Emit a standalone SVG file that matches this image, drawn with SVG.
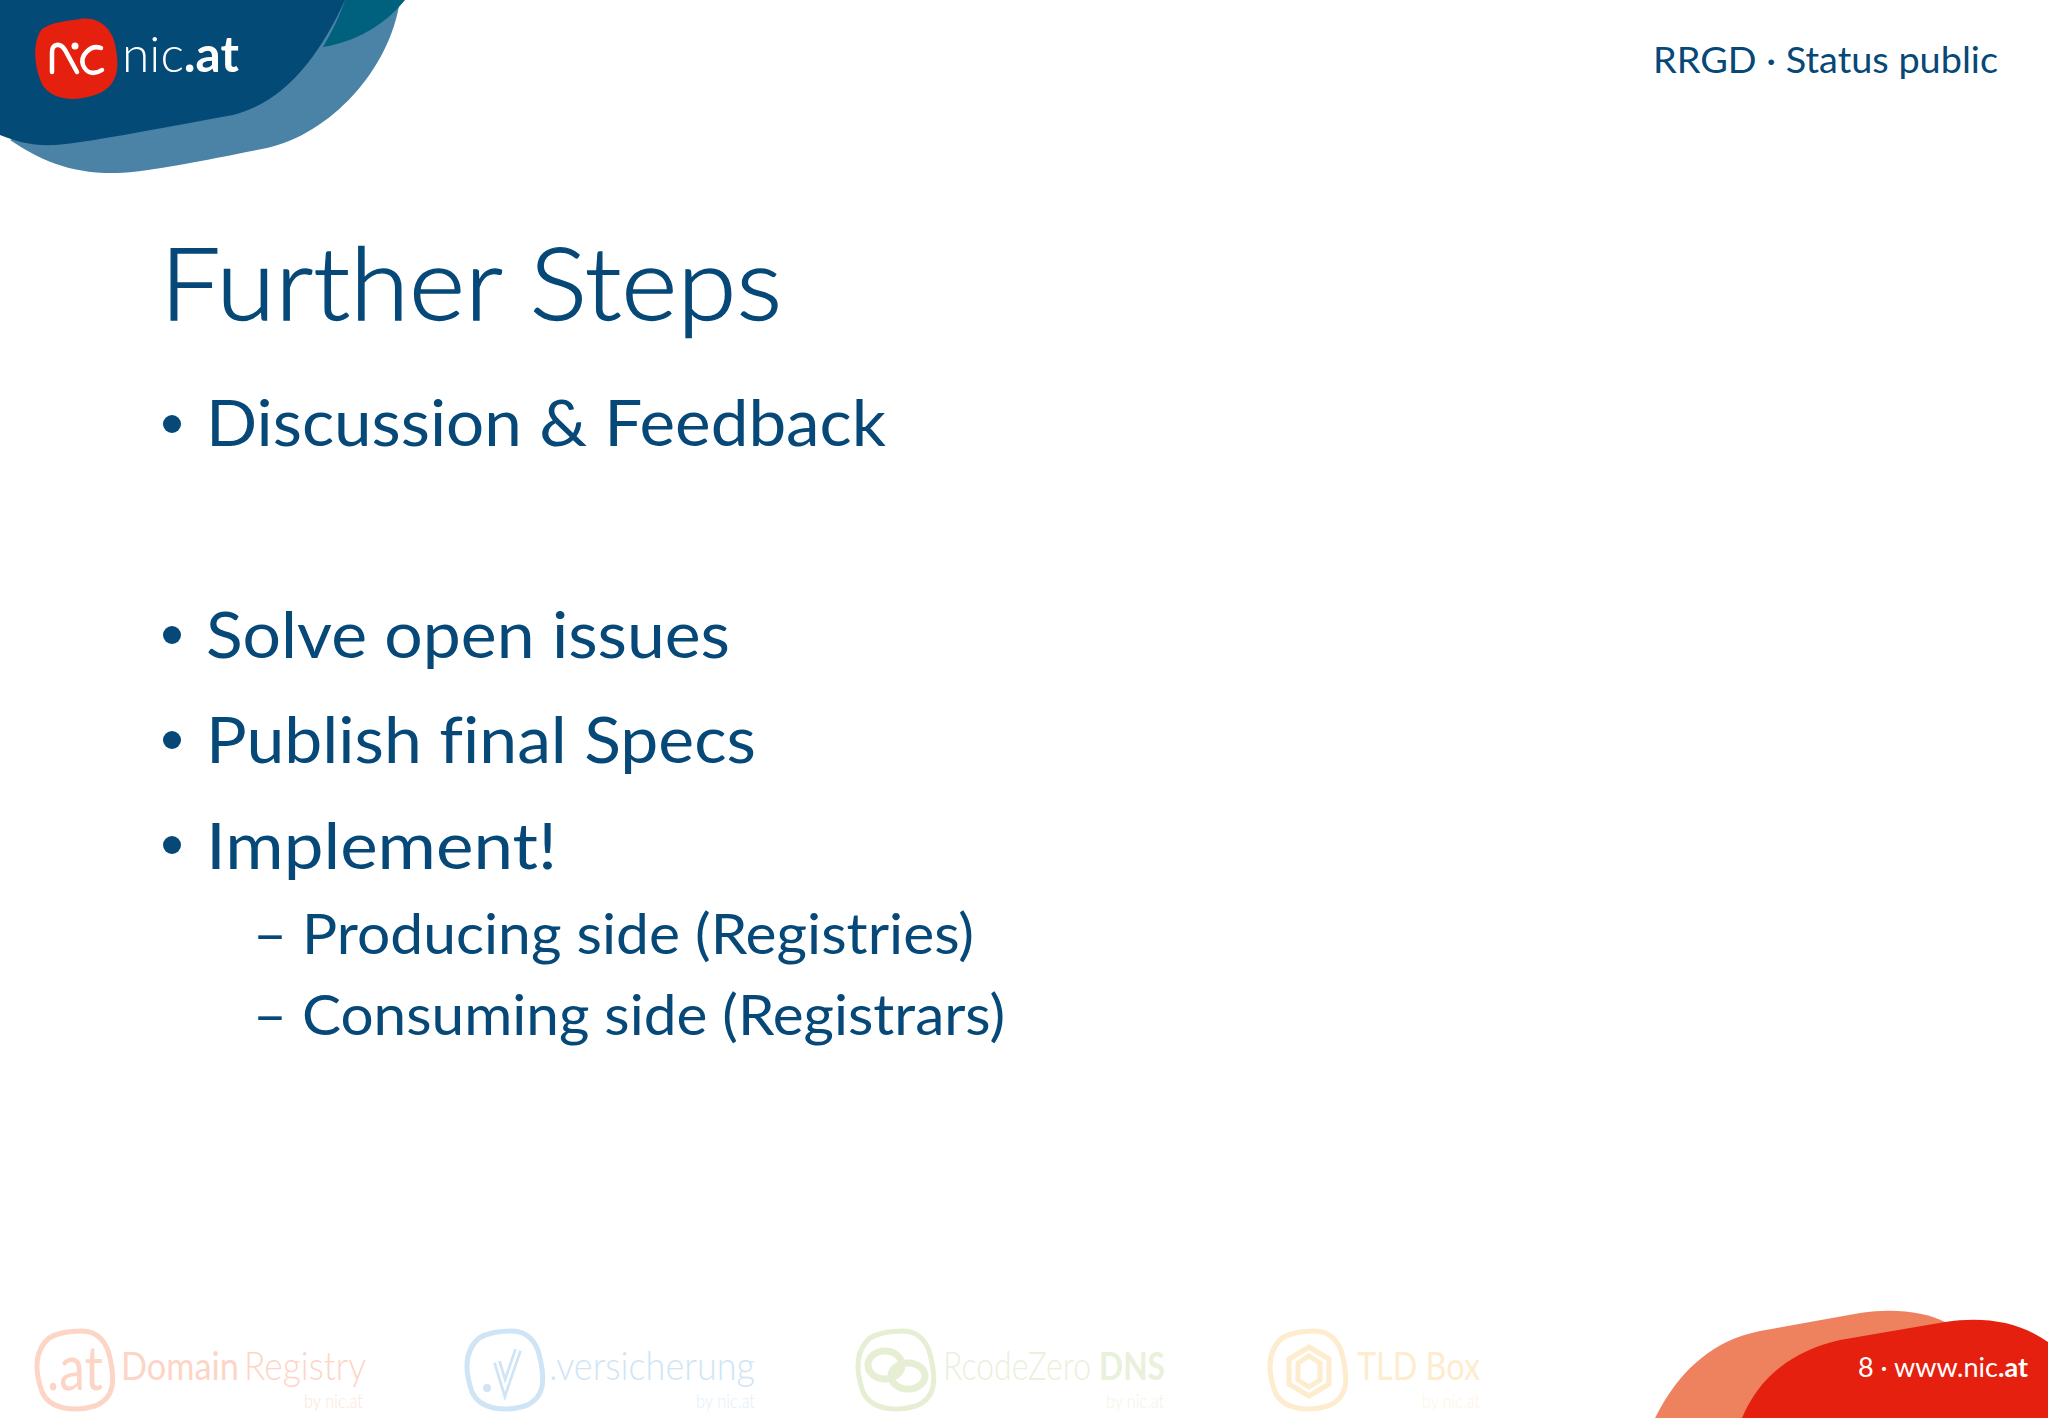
<svg xmlns="http://www.w3.org/2000/svg" width="2048" height="1418" viewBox="0 0 2048 1418">
<style>
text{font-family:"Lato","Liberation Sans",sans-serif;fill:#064877;font-variant-ligatures:none}
.t{font-size:100px;font-weight:300;stroke:#064877;stroke-width:1.3px}
.b{font-size:64px}
.s{font-size:57px}
.h{font-size:37px}
.lg{fill:none;stroke-width:5}
.n{font-size:39px}
.y{font-size:19px;font-weight:300}
.bu{fill:#064877}
</style>
<defs>
<path id="blob" d="M45 1C62 0 72 12 75 28C80 50 80 68 60 76C40 82 15 80 7 62C0 42 -2 22 14 8C24 2 34 2 45 1Z"/>
</defs>
<rect width="2048" height="1418" fill="#fff"/>
<g id="header-shapes">
<path d="M10 140C40 160 70 174 117 173C150 172 215 158 267 148C330 134 390 70 400 0H300Z" fill="#4a83a6"/>
<path d="M0 135C18 142 32 146 55 145C85 143 150 130 233 115C285 102 320 55 345 0H0Z" fill="#034a77"/>
<path d="M345 0C340 15 332 32 323 47C355 42 385 25 405 0Z" fill="#00617f"/>
</g>
<g id="logo">
<path d="M80 19C100 16 112 30 115 44C120 68 118 84 100 93C80 102 52 102 42 84C34 66 32 42 42 29C52 22 66 21 80 19Z" fill="#e5200f"/>
<path d="M52 72V52C52 44 60 42 65 50L77 72M101 48C90 44 80 56 83 65C87 75 96 74 102 70" fill="none" stroke="#fff" stroke-width="4.5" stroke-linecap="round"/>
<circle cx="75" cy="46" r="3.5" fill="#fff"/>
<text x="122" y="72" font-size="50" style="fill:#fff;font-weight:300" textLength="117" lengthAdjust="spacingAndGlyphs">nic<tspan font-weight="700">.at</tspan></text>
</g>
<g id="status"><text class="h" x="1653" y="73" textLength="345" lengthAdjust="spacingAndGlyphs">RRGD · Status public</text></g>
<g id="title"><text class="t" x="160" y="320" textLength="622" lengthAdjust="spacingAndGlyphs">Further Steps</text></g>
<g id="bullets">
<circle class="bu" cx="172" cy="424" r="9"/>
<text class="b" x="206" y="446" textLength="680" lengthAdjust="spacingAndGlyphs">Discussion &amp; Feedback</text>
<circle class="bu" cx="172" cy="635" r="9"/>
<text class="b" x="206" y="658" textLength="524" lengthAdjust="spacingAndGlyphs">Solve open issues</text>
<circle class="bu" cx="172" cy="740" r="9"/>
<text class="b" x="206" y="763" textLength="550" lengthAdjust="spacingAndGlyphs">Publish final Specs</text>
<circle class="bu" cx="172" cy="845" r="9"/>
<text class="b" x="206" y="869" textLength="351" lengthAdjust="spacingAndGlyphs">Implement!</text>
<text class="s" x="253" y="954" textLength="721" lengthAdjust="spacingAndGlyphs">– Producing side (Registries)</text>
<text class="s" x="253" y="1035" textLength="752" lengthAdjust="spacingAndGlyphs">– Consuming side (Registrars)</text>
</g>
<g id="footer-logos">
<g id="domain-registry">
<use href="#blob" x="35" y="1330" class="lg" stroke="#fcd5c6"/>
<text x="47" y="1390" font-size="62" style="fill:#fcd5c6" textLength="56" lengthAdjust="spacingAndGlyphs">.at</text>
<text x="121" y="1380" class="n" style="fill:#fcd5c6" textLength="118" lengthAdjust="spacingAndGlyphs">Domain</text>
<text x="244" y="1380" class="n" style="fill:#fcd5c6;font-weight:300" textLength="122" lengthAdjust="spacingAndGlyphs">Registry</text>
<text class="y" x="304" y="1408" style="fill:#fde4da" textLength="59" lengthAdjust="spacingAndGlyphs">by nic.at</text>
</g>
<g id="versicherung">
<use href="#blob" x="465" y="1330" class="lg" stroke="#cfe5f6"/>
<circle cx="487" cy="1388" r="4" fill="#cfe5f6"/>
<path d="M497 1362L505 1388L518 1350" fill="none" stroke="#cfe5f6" stroke-width="8"/>
<path d="M497 1362L505 1388L518 1350" fill="none" stroke="#fff" stroke-width="2.5"/>
<text x="549" y="1380" class="n" style="fill:#cfe5f6;font-weight:300" textLength="206" lengthAdjust="spacingAndGlyphs">.versicherung</text>
<text class="y" x="696" y="1408" style="fill:#e2eff9" textLength="59" lengthAdjust="spacingAndGlyphs">by nic.at</text>
</g>
<g id="rcodezero">
<use href="#blob" x="856" y="1330" class="lg" stroke="#e6efd3"/>
<g fill="none" stroke="#e6efd3" stroke-width="7"><ellipse cx="885" cy="1365" rx="17" ry="14"/><ellipse cx="908" cy="1376" rx="17" ry="13"/></g>
<text x="943" y="1380" class="n" style="fill:#e9f0db;font-weight:300" textLength="148" lengthAdjust="spacingAndGlyphs">RcodeZero</text>
<text x="1099" y="1380" class="n" style="fill:#e9f0db;font-weight:700" textLength="66" lengthAdjust="spacingAndGlyphs">DNS</text>
<text class="y" x="1106" y="1408" style="fill:#f0f4e6" textLength="58" lengthAdjust="spacingAndGlyphs">by nic.at</text>
</g>
<g id="tld-box">
<use href="#blob" x="1268" y="1330" class="lg" stroke="#fdeccd"/>
<path d="M1309 1347L1329 1359V1384L1309 1396L1289 1384V1359Z" fill="none" stroke="#fdeccd" stroke-width="5"/>
<path d="M1309 1356L1320 1363V1380L1309 1387L1298 1380V1363Z" fill="none" stroke="#fdeccd" stroke-width="5"/>
<text x="1357" y="1380" class="n" style="fill:#fdeccd" textLength="123" lengthAdjust="spacingAndGlyphs">TLD Box</text>
<text class="y" x="1422" y="1408" style="fill:#fef4e2" textLength="58" lengthAdjust="spacingAndGlyphs">by nic.at</text>
</g>
</g>
<g id="footer-shapes">
<path d="M1655 1418C1680 1368 1715 1340 1760 1331L1860 1313C1895 1308 1925 1312 1945 1322L2048 1418Z" fill="#ef825e"/>
<path d="M1742 1418C1760 1375 1795 1350 1840 1340L1945 1322C1985 1316 2020 1322 2048 1342V1418Z" fill="#e5200f"/>
<text x="1858" y="1377" font-size="26" style="fill:#fff" textLength="170" lengthAdjust="spacingAndGlyphs">8 · www.nic<tspan font-weight="700">.at</tspan></text>
</g>
</svg>
